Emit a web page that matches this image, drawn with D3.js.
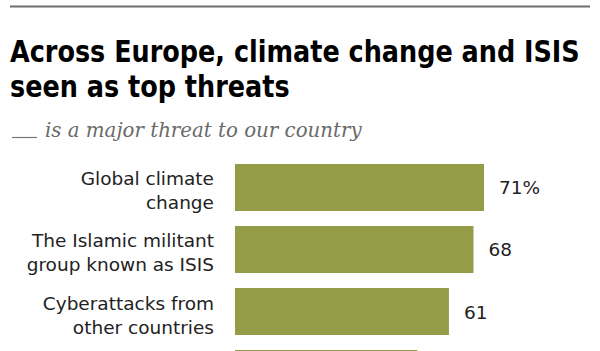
<!DOCTYPE html>
<html>
<head>
<meta charset="utf-8">
<script src="https://cdn.jsdelivr.net/npm/d3@7"></script>
<style>
  body { margin: 0; background: #fff; }
  svg { display: block; }
</style>
</head>
<body>
<div id="chart"></div>
<script>
// values (4th bar is cut off at the bottom)
var categories = [
  ["Global climate", "change"],
  ["The Islamic militant", "group known as ISIS"],
  ["Cyberattacks from", "other countries"],
  ["The condition of the", "global economy"]
]
var values = [71, 68, 61, 52]
var valueLabels = ["71%", "68", "61", "52"]
var titleLines = ["Across Europe, climate change and ISIS", "seen as top threats"]
var subtitle = "is a major threat to our country"

var width = 600, height = 351
var svg = d3.select("#chart").append("svg").attr("width", width).attr("height", height)

// top rule
svg.append("line").attr("x1", 10).attr("x2", 590).attr("y1", 6.5).attr("y2", 6.5)
  .attr("stroke", "#6e6e6e").attr("stroke-width", 2)

// title - condensed bold, squeezed so line 1 spans the same width as the original
var titleG = svg.append("g")
var titles = titleG.selectAll(".title").data(titleLines).join("text").attr("class", "title")
  .attr("x", 0).attr("y", (d, i) => i * 35)
  .attr("font-family", "'DejaVu Sans Condensed', 'DejaVu Sans', sans-serif")
  .attr("font-weight", "bold").attr("font-size", 31).attr("fill", "#000")
  .text(d => d)
var w0 = titles.nodes()[0].getComputedTextLength()
var k = 570 / w0
titleG.attr("transform", "translate(10,62) scale(" + k + ",1)")

// subtitle with blank line
svg.append("line").attr("x1", 12).attr("x2", 37).attr("y1", 137.5).attr("y2", 137.5)
  .attr("stroke", "#777").attr("stroke-width", 1.2)
svg.append("text").attr("x", 45).attr("y", 137)
  .attr("font-family", "'DejaVu Serif', serif").attr("font-style", "italic")
  .attr("font-size", 19.8).attr("fill", "#6a6a6a").text(subtitle)

var x = d3.scaleLinear().domain([0, 100]).range([235, 585.7])
var y = d3.scaleBand().domain(d3.range(values.length)).range([164, 397]).paddingInner(0.242)

var rows = svg.selectAll(".row").data(values).join("g").attr("class", "row")

rows.append("rect")
  .attr("x", x(0)).attr("y", (d, i) => y(i))
  .attr("width", d => x(d) - x(0)).attr("height", y.bandwidth())
  .attr("fill", "#949c48")

// only rows whose text falls inside the picture get labels
var shown = rows.filter((d, i) => y(i) + y.bandwidth() < height)

shown.append("text")
  .attr("x", d => x(d) + 15).attr("y", (d, i) => y(i) + y.bandwidth() / 2 + 7)
  .attr("font-family", "'DejaVu Sans', sans-serif").attr("font-size", 18.5).attr("fill", "#222")
  .text((d, i) => valueLabels[i])

shown.append("text")
  .attr("text-anchor", "end")
  .attr("font-family", "'DejaVu Sans', sans-serif").attr("font-size", 18.5).attr("fill", "#222")
  .selectAll("tspan").data((d, i) => categories[i].map(t => ({t: t, i: i}))).join("tspan")
  .attr("x", 214).attr("y", (d, j) => y(d.i) + y.bandwidth() / 2 - 2 + j * 24)
  .text(d => d.t)
</script>
</body>
</html>
